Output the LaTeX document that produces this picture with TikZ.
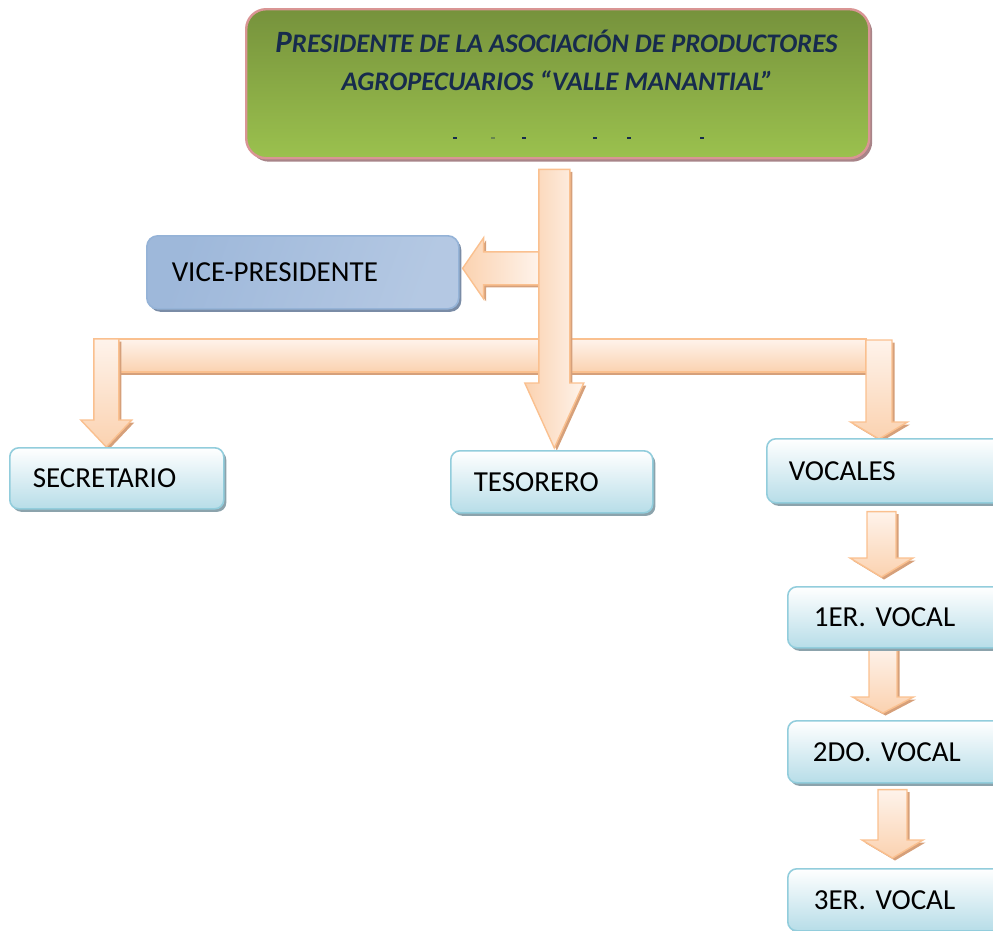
\documentclass[tikz,border=0pt]{standalone}
\usepackage{fontspec}
\setmainfont{Carlito}
\usetikzlibrary{shadows,calc}
\pgfdeclarelayer{links}
\pgfsetlayers{links,main}
\frenchspacing

\definecolor{peach}{RGB}{251,210,176}
\definecolor{lightpeach}{RGB}{254,243,235}
\definecolor{arrowline}{RGB}{250,192,143}
\definecolor{arrowshadow}{RGB}{214,160,122}
\definecolor{greentop}{RGB}{118,146,60}
\definecolor{greenbottom}{RGB}{155,193,78}
\definecolor{headline}{RGB}{217,149,148}
\definecolor{headshadow}{RGB}{168,132,136}
\definecolor{navy}{RGB}{23,43,77}
\definecolor{boxline}{RGB}{146,205,220}
\definecolor{boxfill}{RGB}{183,221,232}
\definecolor{boxshadow}{RGB}{140,163,172}
\definecolor{viceblue}{RGB}{150,178,215}
\definecolor{vicelight}{RGB}{226,234,245}
\definecolor{viceline}{RGB}{149,179,215}
\definecolor{viceshadow}{RGB}{122,140,166}

% vertical block arrow: #1 gives the top (y only), #2 the tip,
% #3 half shaft width, #4 half head width, #5 head length, #6 style
\newcommand\downblock[6]{%
  \path[#6] let \p1=(#1), \p2=(#2) in
    (\x2-#3,\y1) -- (\x2+#3,\y1) -- (\x2+#3,\y2+#5) -- (\x2+#4,\y2+#5)
    -- (\x2,\y2) -- (\x2-#4,\y2+#5) -- (\x2-#3,\y2+#5) -- cycle;}
% leftward block arrow: #1 gives the right end (x only), #2 the tip
\newcommand\sideblock[6]{%
  \path[#6] let \p1=(#1), \p2=(#2) in
    (\x1,\y2+#3) -- (\x2+#5,\y2+#3) -- (\x2+#5,\y2+#4) -- (\x2,\y2)
    -- (\x2+#5,\y2-#4) -- (\x2+#5,\y2-#3) -- (\x1,\y2-#3) -- cycle;}

\begin{document}
\begin{tikzpicture}[x=1pt,y=-1pt,
  headbox/.style={draw=headline, line width=2.4pt, rounded corners=20pt,
    top color=greentop, bottom color=greenbottom, anchor=north west,
    drop shadow={shadow xshift=3pt, shadow yshift=-3.5pt, fill=headshadow, opacity=1}},
  headtext/.style={text=navy, inner sep=0pt, anchor=base,
    font=\fontsize{26.8}{30}\selectfont\bfseries\itshape},
  tealbox/.style={draw=boxline, line width=1.6pt, rounded corners=9pt,
    top color=white, bottom color=boxfill, anchor=north west,
    drop shadow={shadow xshift=2.5pt, shadow yshift=-3pt, fill=boxshadow, opacity=1},
    font=\fontsize{29}{34}\selectfont, align=left, inner ysep=0pt},
  vicebox/.style={draw=viceline, line width=1.6pt, rounded corners=11pt,
    left color=viceblue!90!vicelight, middle color=vicelight, right color=viceblue!60!vicelight,
    shading angle=70, anchor=north west,
    drop shadow={shadow xshift=2.5pt, shadow yshift=-3pt, fill=viceshadow, opacity=1},
    font=\fontsize{29}{34}\selectfont, align=left, inner ysep=0pt},
  downarrow/.style={draw=arrowline, line width=1.4pt, top color=lightpeach, bottom color=peach,
    drop shadow={shadow xshift=2.5pt, shadow yshift=-2.5pt, fill=arrowshadow, opacity=1}},
  mainarrow/.style={draw=arrowline, line width=1.4pt, left color=peach, right color=lightpeach,
    drop shadow={shadow xshift=2.5pt, shadow yshift=-2.5pt, fill=arrowshadow, opacity=1}},
  sidearrow/.style={draw=arrowline, line width=1.4pt, left color=peach, right color=lightpeach,
    drop shadow={shadow xshift=2.5pt, shadow yshift=-2.5pt, fill=arrowshadow, opacity=1}},
  barstyle/.style={draw=arrowline, line width=1.4pt, top color=lightpeach, bottom color=peach,
    drop shadow={shadow xshift=0pt, shadow yshift=-3pt, fill=arrowshadow, opacity=1}},
  tick/.style={line width=1.2pt, navy}
]
\useasboundingbox (0,0) rectangle (993,930);
\clip (0,0) rectangle (993,930);

% president
\node[headbox, minimum width=623pt, minimum height=149pt] (pres) at (245,8) {};
\node[headtext] (presA) at (556.5,52)
  {{\fontsize{31}{30}\selectfont P}RESIDENTE DE LA ASOCIACIÓN DE PRODUCTORES};
\node[headtext] (presB) at (557.5,90) {AGROPECUARIOS “VALLE MANANTIAL”};
\foreach \tx in {455,524,595,629,702}
  \draw[tick] (\tx-2,138) -- (\tx+2,138);
\draw[tick, navy!40!greenbottom] (491,138) -- (495,138);

% officers
\node[vicebox, minimum width=312pt, minimum height=73pt, text width=262pt, inner xsep=25pt]
  (vice) at (146,235) {VICE-PRESIDENTE};
\node[tealbox, minimum width=214pt, minimum height=61pt, text width=168pt, inner xsep=23pt]
  (sec) at (9,447) {SECRETARIO};
\node[tealbox, minimum width=202pt, minimum height=62pt, text width=156pt, inner xsep=23pt]
  (tes) at (450,450) {TESORERO};
\node[tealbox, minimum width=240pt, minimum height=64pt, text width=196pt, inner xsep=22pt]
  (voc) at (766,438) {VOCALES};
\node[tealbox, minimum width=225pt, minimum height=61pt, text width=173pt, inner xsep=26pt]
  (v1) at (787,586) {1ER. VOCAL};
\node[tealbox, minimum width=225pt, minimum height=62pt, text width=175pt, inner xsep=25pt]
  (v2) at (787,720) {2DO. VOCAL};
\node[tealbox, minimum width=225pt, minimum height=62pt, text width=173pt, inner xsep=26pt]
  (v3) at (787,868) {3ER. VOCAL};

% arrow tips
\coordinate (tesTip) at ([xshift=2.5pt,yshift=2pt]tes.north);
\coordinate (secTip) at ([xshift=-10.5pt]sec.north);
\coordinate (vocTip) at ([xshift=113pt,yshift=-1pt]voc.north west);
\coordinate (viceTip) at ([xshift=3pt,yshift=4pt]vice.east);
\coordinate (v1Tip) at ([xshift=94.5pt,yshift=9pt]v1.north west);
\coordinate (v2Tip) at ([xshift=96pt,yshift=7pt]v2.north west);
\coordinate (v3Tip) at ([xshift=105.5pt,yshift=10pt]v3.north west);

\begin{pgfonlayer}{links}
  % cross bar feeding secretary and vocals
  \path[barstyle] ([xshift=-12.5pt,yshift=108pt]secTip) rectangle ([xshift=-13pt,yshift=67pt]vocTip);
  \downblock{[yshift=108pt]secTip}{secTip}{12.5pt}{25.5pt}{27pt}{downarrow}
  \downblock{[yshift=99pt]vocTip}{vocTip}{13pt}{28.5pt}{17pt}{downarrow}
  % vice-president branch
  \sideblock{[xshift=-15.5pt]tesTip}{viceTip}{16.5pt}{30.5pt}{21pt}{sidearrow}
  % main stem to treasurer
  \downblock{[yshift=-10pt]pres.south}{tesTip}{15.5pt}{29.5pt}{65pt}{mainarrow}
  % vocal chain
  \downblock{[yshift=-8pt]voc.south}{v1Tip}{14.5pt}{31.5pt}{19pt}{downarrow}
  \downblock{[yshift=2pt]v1.south}{v2Tip}{14pt}{30.5pt}{16pt}{downarrow}
  \downblock{[yshift=-6pt]v2.south}{v3Tip}{14.5pt}{30.5pt}{18pt}{downarrow}
\end{pgfonlayer}
\end{tikzpicture}
\end{document}
